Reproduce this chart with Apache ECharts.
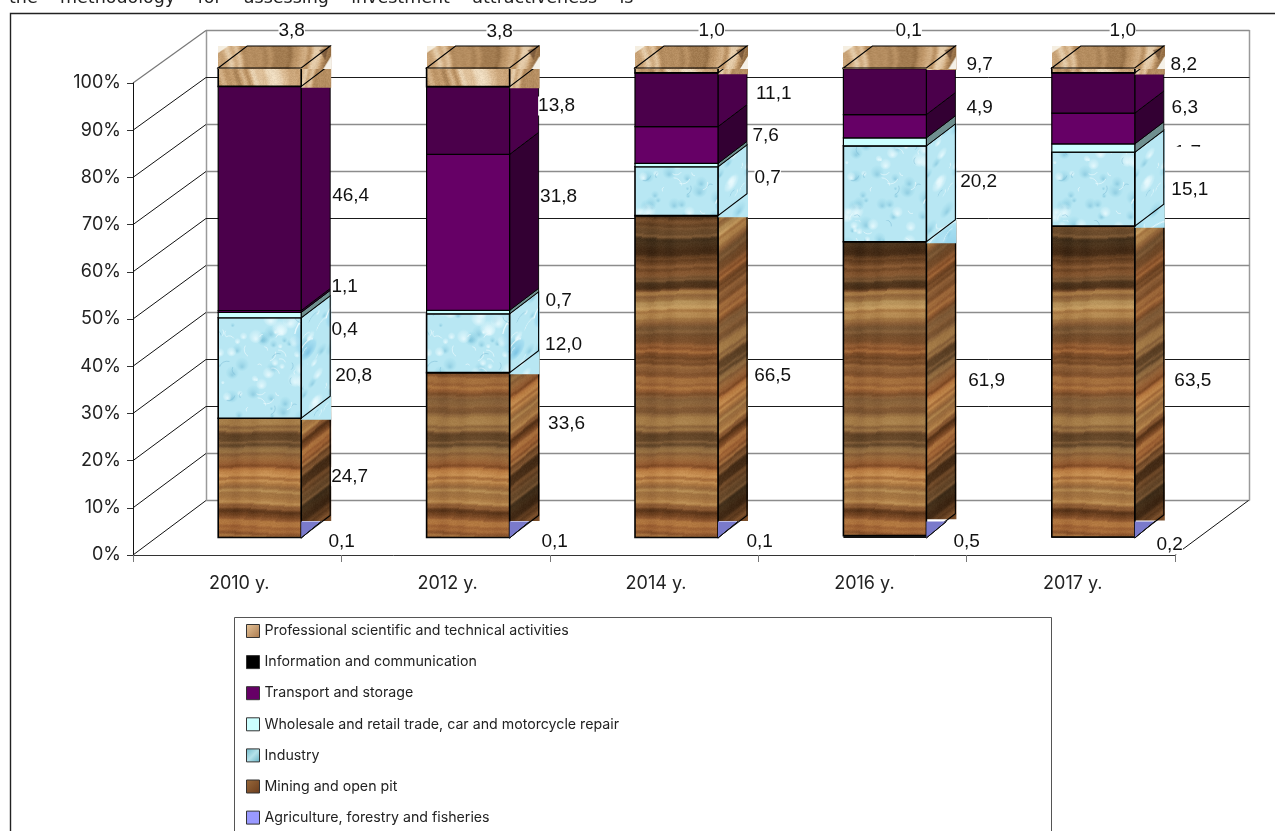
<!DOCTYPE html>
<html>
<head>
<meta charset="utf-8">
<title>Investment structure by activity</title>
<style>html,body{margin:0;padding:0;background:#fff;overflow:hidden}#chart{width:1275px;height:831px}</style>
<script src="https://cdn.jsdelivr.net/npm/echarts@6/dist/echarts.min.js"></script>
</head>
<body>
<div id="chart"></div>
<script>
const categories = ['2010 y.', '2012 y.', '2014 y.', '2016 y.', '2017 y.'];
const yTicks = [0, 10, 20, 30, 40, 50, 60, 70, 80, 90, 100];

const agriculture = [0.1, 0.1, 0.1, 0.5, 0.2];
const mining = [24.7, 33.6, 66.5, 61.9, 63.5];
const industry = [20.8, 12.0, 10.1, 20.2, 15.1];
const wholesale = [1.1, 0.7, 0.7, 1.7, 1.7];
const transport = [0.4, 31.8, 7.6, 4.9, 6.3];
const information = [46.4, 13.8, 11.1, 9.7, 8.2];
const professional = [3.8, 3.8, 1.0, 0.1, 1.0];

const layerNames = [
  'Agriculture, forestry and fisheries',
  'Mining and open pit',
  'Industry',
  'Wholesale and retail trade, car and motorcycle repair',
  'Transport and storage',
  'Information and communication',
  'Professional scientific and technical activities'
];
const layerValues = [agriculture, mining, industry, wholesale, transport, information, professional];

// Hand-placed label nudges [dx, dy] from the right edge / middle of each segment; null = label not shown.
const labelNudges = [
  [[11.5, 3], [16, 3], [12.7, 3], [11.3, 4], [5.9, 6.5]],
  [[19.5, -2], [28, -32], [25.7, -1.8], [31.3, -9], [29, -1.7]],
  [[23.5, 7], [25, 1], null, [23.3, -13], [26, -0.5]],
  [[14.5, -29], [20, -12], [20.7, 11.5], null, [24, 3.6]],
  [[14.5, 17.5], [20, -37], [18.7, -10.5], [24.3, -19.5], [21, -21.8]],
  [[20.5, -3.5], [18, -15.5], [26.7, -7], [24.3, -28], [20, -29.4]],
  [[-38.5, -47], [-39, -47], [-35.3, -41], [-46.7, -38.6], [-41, -41]]
];

// Wall line look per tick: true = crisp dark, false = soft grey.
const darkGridLine = [false, false, true, true, false, false, true, false, false, true, false];

// ---- 3D layout constants (pixels) ----
const BAR_W = 83, BAR_DX = 29, BAR_DY = 22, FLOOR_DX = 22.5, FLOOR_DY = 17;
const WALL_DX = 73, WALL_DY = 55, TAPER = 0.02;

// ---- Seeded generator so the surface textures are the same on every load ----
function makeRng(seed) {
  let s = seed >>> 0;
  return () => { s = (Math.imul(s, 1664525) + 1013904223) >>> 0; return s / 4294967296; };
}
function canvasOf(w, h) { const c = document.createElement('canvas'); c.width = w; c.height = h; return c; }
function periodicNoise(n, rng, steps) {
  const out = new Float32Array(n);
  steps.forEach(([step, amp]) => {
    const count = Math.max(2, Math.round(n / step));
    const knots = Array.from({ length: count }, () => rng());
    for (let i = 0; i < n; i++) {
      const t = i / n * count, a = Math.floor(t), f = t - a, u = f * f * (3 - 2 * f);
      out[i] += amp * (knots[a % count] * (1 - u) + knots[(a + 1) % count] * u);
    }
  });
  let lo = Infinity, hi = -Infinity;
  out.forEach(v => { lo = Math.min(lo, v); hi = Math.max(hi, v); });
  return out.map(v => (v - lo) / (hi - lo));
}
function ramp(stops, t) {
  for (let i = 1; i < stops.length; i++) {
    if (t <= stops[i][0]) {
      const a = stops[i - 1], b = stops[i], f = (t - a[0]) / (b[0] - a[0]);
      return [0, 1, 2].map(k => a[1][k] + (b[1][k] - a[1][k]) * f);
    }
  }
  return stops[stops.length - 1][1];
}
function woodTile() {
  const w = 208, h = 340, c = canvasOf(w, h), g = c.getContext('2d'), img = g.createImageData(w, h);
  const rng = makeRng(77);
  const coarse = periodicNoise(h, rng, [[38, 1], [16, 0.6]]);
  const fine = periodicNoise(h, rng, [[7, 1], [3, 0.9]]);
  const lines = periodicNoise(h, rng, [[11, 1], [5, 0.5]]);
  const tint = periodicNoise(h, rng, [[26, 1], [10, 0.6]]);
  const stops = [[0, [62, 35, 15]], [0.3, [106, 66, 34]], [0.55, [140, 92, 52]], [0.8, [170, 122, 68]], [1, [198, 156, 96]]];
  // Slow sideways streak field so the bands are not perfectly uniform along a row
  const streakX = periodicNoise(w, rng, [[30, 1], [9, 0.7]]);
  for (let y = 0; y < h; y++) for (let x = 0; x < w; x++) {
    const off = 1.2 * Math.sin(x / 45 + y / 70) + 0.8 * Math.sin(x / 17 + y / 29);
    const idx = ((Math.round(y + off) % h) + h) % h;
    const d = Math.max(0, (lines[idx] - 0.62) / 0.38);
    let t = 0.05 + 0.5 * coarse[idx] + 0.5 * fine[idx];
    t = Math.min(1, t) * (1 - 0.8 * Math.min(1, d * 1.5));
    t = Math.max(0, Math.min(1, t + (streakX[x] - 0.5) * 0.12));
    const col = ramp(stops, t);
    const grain = (rng() - 0.5) * 8, red = (tint[idx] - 0.5) * 26;
    const o = (y * w + x) * 4;
    img.data[o] = col[0] + grain + red; img.data[o + 1] = col[1] + grain; img.data[o + 2] = col[2] + grain - red * 0.3; img.data[o + 3] = 255;
  }
  g.putImageData(img, 0, 0);
  return c;
}
function iceTile() {
  const w = 208, h = 220, c = canvasOf(w, h), g = c.getContext('2d'), rng = makeRng(31);
  g.fillStyle = '#b8e7f3'; g.fillRect(0, 0, w, h);
  const blob = (x, y, r, inner, outer) => {
    for (const oy of [-h, 0, h]) {
      const gr = g.createRadialGradient(x, y + oy + r * 0.35, r * 0.1, x, y + oy, r);
      gr.addColorStop(0, inner); gr.addColorStop(0.75, outer); gr.addColorStop(1, 'rgba(190,235,245,0)');
      g.fillStyle = gr; g.beginPath(); g.arc(x, y + oy, r, 0, Math.PI * 2); g.fill();
    }
  };
  for (let i = 0; i < 130; i++) blob(rng() * w, rng() * h, 2 + rng() * 7, 'rgba(120,190,215,.55)', 'rgba(160,220,236,.25)');
  for (let i = 0; i < 110; i++) blob(rng() * w, rng() * h, 2 + rng() * 7, 'rgba(238,252,255,.75)', 'rgba(228,248,252,.25)');
  // Larger drops spread over each bar's width
  [[112, 118, 30], [158, 60, 15], [84, 40, 12], [130, 190, 14], [168, 165, 16], [100, 205, 10], [175, 110, 11]].forEach(([x, y, r]) => {
    blob(x, y, r, 'rgba(115,190,225,.8)', 'rgba(150,214,238,.5)');
    g.strokeStyle = 'rgba(240,253,255,.8)'; g.lineWidth = 1.3;
    g.beginPath(); g.arc(x, y, r * 0.85, Math.PI * 1.05, Math.PI * 1.7); g.stroke();
  });
  // Fine lace of pale arcs and flecks
  for (let i = 0; i < 120; i++) {
    const x = rng() * w, y = rng() * h, r = 2 + rng() * 6, a = rng() * 6.28;
    g.strokeStyle = rng() < 0.6 ? 'rgba(245,254,255,.7)' : 'rgba(105,175,205,.5)';
    g.lineWidth = 0.8; g.beginPath(); g.arc(x, y, r, a, a + 1.6); g.stroke();
  }
  return c;
}
function tanTile() {
  const w = 208, h = 120, c = canvasOf(w, h), g = c.getContext('2d'), img = g.createImageData(w, h);
  const rng = makeRng(13);
  const p = periodicNoise(w, rng, [[34, 1], [12, 1], [5, 0.5]]);
  const stops = [[0, [150, 112, 70]], [0.4, [194, 154, 108]], [0.7, [218, 186, 146]], [1, [238, 220, 192]]];
  for (let y = 0; y < h; y++) for (let x = 0; x < w; x++) {
    const off = Math.round(3 * Math.sin(y / 9 + x / 40));
    const col = ramp(stops, p[((x + off) % w + w) % w]);
    const fine = (rng() - 0.5) * 14, o = (y * w + x) * 4;
    img.data[o] = col[0] + fine; img.data[o + 1] = col[1] + fine; img.data[o + 2] = col[2] + fine; img.data[o + 3] = 255;
  }
  g.putImageData(img, 0, 0);
  return c;
}
function shearTile(src) {
  const c = canvasOf(src.width, src.height), g = c.getContext('2d');
  g.setTransform(1, -BAR_DY / BAR_DX, 0, 1, 0, 0);
  g.fillStyle = g.createPattern(src, 'repeat');
  g.fillRect(-10, -1000, src.width + 20, src.height + 3000);
  return c;
}
function capImage(src) {
  const w = BAR_W + BAR_DX + 1, h = BAR_DY + 1, c = canvasOf(w, h), g = c.getContext('2d');
  g.drawImage(src, 85, 0, w, h, 0, 0, w, h);
  // Dark bark and pale corners at the edges of the lid picture
  g.fillStyle = 'rgba(250,246,236,.9)';
  g.beginPath(); g.moveTo(0, 0); g.lineTo(10, 0); g.lineTo(0, 7); g.fill();
  g.fillStyle = 'rgba(90,60,36,.6)';
  g.beginPath(); g.moveTo(w - 12, 4); g.lineTo(w - 3, 2); g.lineTo(w - 6, 14); g.fill();
  g.fillStyle = 'rgba(250,248,240,.95)';
  g.beginPath(); g.moveTo(w, 10); g.lineTo(w, h); g.lineTo(w - 8, h); g.fill();
  return c;
}
const pat = img => ({ image: img, repeat: 'repeat' });
const woodImg = woodTile(), iceImg = iceTile(), tanImg = tanTile();
const wood = pat(woodImg), woodSide = pat(shearTile(woodImg));
const ice = pat(iceImg), iceSide = pat(shearTile(iceImg));
const tan = pat(tanImg), tanSide = pat(shearTile(tanImg));
const capImg = capImage(tanImg);

const layerLooks = [
  { front: '#9999ff', side: '#7a7acb' },
  { front: wood, side: woodSide, textured: true },
  { front: ice, side: iceSide, textured: true },
  { front: '#ccffff', side: '#6f8f8f' },
  { front: '#660066', side: '#330033' },
  { front: '#4b004b', side: '#4b004b' },
  { front: tan, side: tanSide, textured: true, cap: true }
];

// Every column is stretched to 100%; these are the stacked shares per column.
const columnTotals = categories.map((_, i) => layerValues.reduce((s, v) => s + v[i], 0));
function layerRows(k) {
  return categories.map((_, i) => {
    let below = 0;
    for (let j = 0; j < k; j++) below += layerValues[j][i];
    const f = 100 / columnTotals[i];
    return [i, below * f, (below + layerValues[k][i]) * f, layerValues[k][i]];
  });
}

// Front-face geometry of one stacked segment
function segment(api) {
  const i = api.value(0), v0 = api.value(1), v1 = api.value(2);
  const p0 = api.coord([i, v0]), p1 = api.coord([i, v1]);
  const x0 = p0[0] - BAR_W / 2 + FLOOR_DX;
  return {
    x0, x1: x0 + BAR_W, x2: x0 + BAR_W + BAR_DX,
    yb: p0[1] - FLOOR_DY + TAPER * v0,
    yt: p1[1] - FLOOR_DY + TAPER * v1
  };
}
const poly = (points, style, z2) => ({ type: 'polygon', shape: { points }, style, z2: z2 || 0, silent: true });

function renderLayer(k) {
  const look = layerLooks[k];
  return function (params, api) {
    const s = segment(api), c = [];
    const h = Math.max(s.yb - s.yt, 0.5);
    const outline = { fill: 'none', stroke: '#000', lineWidth: 1.1 };
    if (k === 0) {
      // The tiny floor-level layer only shows as a wedge on the side
      c.push(poly([[s.x1, s.yb], [s.x1, s.yb - 16.5], [s.x1 + 20, s.yb - 16.5]], { fill: look.side }));
      c.push(poly([[s.x1, s.yb], [s.x1 + 20, s.yb - 16.5]], { fill: 'none', stroke: '#111', lineWidth: 1 }));
      c.push({ type: 'rect', shape: { x: s.x0, y: s.yt, width: BAR_W, height: h }, style: { fill: '#111' } });
      return { type: 'group', children: c };
    }
    if (look.textured) {
      const bottom = k === 1 ? s.yb - 16.5 : s.yb + 1.5;
      c.push(poly([[s.x1, s.yt], [s.x2 + 1, s.yt - BAR_DY], [s.x2 + 1, bottom], [s.x1, bottom]], { fill: look.side }));
      c.push(poly([[s.x1, s.yb], [s.x1, s.yt], [s.x2, s.yt - BAR_DY], [s.x2, s.yb - BAR_DY]], outline));
    } else {
      c.push(poly([[s.x1, s.yb], [s.x1, s.yt], [s.x2, s.yt - BAR_DY], [s.x2, s.yb - BAR_DY]],
        { fill: look.side, stroke: '#000', lineWidth: 0.9 }));
    }
    c.push({
      type: 'rect', shape: { x: s.x0, y: s.yt, width: BAR_W, height: h },
      style: { fill: look.front, stroke: '#000', lineWidth: look.textured ? 1.6 : 1.2 }
    });
    if (look.cap) {
      c.push({ type: 'image', style: { image: capImg, x: s.x0, y: s.yt - BAR_DY, width: BAR_W + BAR_DX + 1, height: BAR_DY + 1 } });
      c.push(poly([[s.x0, s.yt], [s.x0 + BAR_DX, s.yt - BAR_DY], [s.x2, s.yt - BAR_DY], [s.x1, s.yt]], outline));
    }
    return { type: 'group', children: c };
  };
}

const layerSeries = layerNames.map((name, k) => ({
  type: 'custom', name, coordinateSystem: 'cartesian2d', clip: false, silent: true,
  z: k === 0 ? 4 : 3,
  encode: { x: 0, y: [1, 2] },
  data: layerRows(k),
  renderItem: renderLayer(k)
}));

// Back wall, side wall and floor, drawn on the chart's own value scale
const wallSeries = {
  type: 'custom', name: 'walls', coordinateSystem: 'cartesian2d', clip: false, silent: true, z: 1,
  encode: { y: 0 },
  data: yTicks.map(t => [t]),
  renderItem(params, api) {
    const v = api.value(0), idx = params.dataIndex, area = params.coordSys;
    const y = api.coord([0, v])[1], x0 = area.x, x1 = area.x + area.width;
    const by = y - WALL_DY + TAPER * v, snap = Math.round(by) + 0.5, right = x1 + WALL_DX + 1.5;
    const dark = darkGridLine[idx];
    const back = dark ? { stroke: '#1a1a1a', lineWidth: 1 } : { stroke: '#8c8c8c', lineWidth: 1.6 };
    const top = v === 100;
    const line = (a, b, style) => ({ type: 'line', shape: { x1: a[0], y1: a[1], x2: b[0], y2: b[1] }, style, silent: true });
    const c = [
      line([x0 + WALL_DX, snap], [right, snap], back),
      line([x0, y], [x0 + WALL_DX, snap], top ? { stroke: '#777', lineWidth: 1.2 } : { stroke: '#111', lineWidth: 1 })
    ];
    if (v === 0) {
      const topBack = api.coord([0, 100])[1] - WALL_DY + TAPER * 100;
      c.push(line([x0 + WALL_DX + 0.5, snap], [x0 + WALL_DX + 0.5, topBack], { stroke: '#9a9a9a', lineWidth: 1.5 }));
      c.push(line([right, snap], [right, topBack], { stroke: '#9a9a9a', lineWidth: 1.5 }));
      c.push(line([x1, y], [right - 1, snap], { stroke: '#111', lineWidth: 1 }));
    }
    return { type: 'group', children: c };
  }
};

// Value labels, sitting over everything with a white plate behind the digits
const labelRows = [];
layerNames.forEach((_, k) => layerRows(k).forEach((r, i) => {
  if (labelNudges[k][i]) labelRows.push([i, r[1], r[2], r[3], k]);
}));
const labelSeries = {
  type: 'custom', name: 'values', coordinateSystem: 'cartesian2d', clip: false, silent: true, z: 6,
  encode: { x: 0, y: [1, 2] },
  data: labelRows,
  renderItem(params, api) {
    const s = segment(api), i = api.value(0), value = api.value(3), k = api.value(4);
    const n = labelNudges[k][i];
    const x = s.x2 + n[0], y = (s.yt + s.yb) / 2 + n[1] + 1;
    const c = [{
      type: 'text', silent: true,
      style: {
        text: value.toFixed(1).replace('.', ','), x, y, align: 'center', verticalAlign: 'middle',
        font: '19px "Liberation Sans", Arial, sans-serif', fill: '#111',
        backgroundColor: '#fff', padding: 0
      }
    }];
    // The 2017 trade label is cut by the plate of the label beneath it
    if (k === 3 && i === 4) {
      c.push({ type: 'rect', silent: true, shape: { x: x - 19, y: y - 6, width: 38, height: 18 }, style: { fill: '#fff' } });
    }
    return { type: 'group', children: c };
  }
};

const legendLooks = [
  { color: '#9999ff' },
  { color: { type: 'linear', x: 0, y: 0, x2: 1, y2: 1, colorStops: [{ offset: 0, color: '#9a6a3c' }, { offset: 1, color: '#6a3c1c' }] } },
  { color: { type: 'linear', x: 0, y: 0, x2: 1, y2: 1, colorStops: [{ offset: 0, color: '#6fb9c9' }, { offset: 0.5, color: '#b5e2ea' }, { offset: 1, color: '#62afc2' }] } },
  { color: '#ccffff' },
  { color: '#660066' },
  { color: '#000000' },
  { color: { type: 'linear', x: 0, y: 0, x2: 1, y2: 1, colorStops: [{ offset: 0, color: '#e8c79c' }, { offset: 1, color: '#a9784c' }] } }
];
const legendData = layerNames.map((name, k) => ({
  name, icon: 'rect',
  itemStyle: { color: legendLooks[k].color, borderColor: '#333', borderWidth: 1 }
})).reverse();

const labelFont = 'Inter, "Noto Sans", sans-serif';
const chart = echarts.init(document.getElementById('chart'), null, { renderer: 'canvas' });
chart.setOption({
  animation: false,
  backgroundColor: '#fff',
  grid: { left: 133, top: 83, width: 1042, height: 472, containLabel: false },
  xAxis: {
    type: 'category', data: categories, boundaryGap: true,
    axisLine: { lineStyle: { color: '#333', width: 1 } },
    axisTick: { show: true, alignWithLabel: false, length: 7, lineStyle: { color: '#777' } },
    axisLabel: { margin: 20, color: '#222', fontFamily: labelFont, fontSize: 18, padding: [0, 0, 0, 4] },
    z: 2
  },
  yAxis: {
    type: 'value', min: 0, max: 100, interval: 10, splitLine: { show: false },
    axisLine: { show: true, lineStyle: { color: '#111', width: 1 } },
    axisTick: { show: true, length: 6, lineStyle: { color: '#333' } },
    axisLabel: { margin: 12, color: '#222', fontFamily: labelFont, fontSize: 18, formatter: '{value}%', lineHeight: 18, padding: [10, 0, 0, 0] },
    z: 2
  },
  legend: {
    orient: 'vertical', left: 241, top: 619, itemWidth: 13, itemHeight: 13, itemGap: 17.1,
    selectedMode: false, data: legendData,
    textStyle: { color: '#222', fontFamily: labelFont, fontSize: 14.2 }
  },
  graphic: [
    { type: 'polyline', shape: { points: [[1275, 13.5], [10.5, 13.5], [10.5, 831]] }, style: { fill: 'none', stroke: '#222', lineWidth: 1.4 }, silent: true, z: 0 },
    { type: 'rect', shape: { x: 234.5, y: 617.5, width: 817, height: 260 }, style: { fill: '#fff', stroke: '#555', lineWidth: 1 }, silent: true, z: 0 },
    { type: 'text', style: { text: 'the\u00a0\u00a0\u00a0\u00a0methodology\u00a0\u00a0\u00a0\u00a0for\u00a0\u00a0\u00a0\u00a0assessing\u00a0\u00a0\u00a0\u00a0investment\u00a0\u00a0\u00a0\u00a0attractiveness\u00a0\u00a0\u00a0\u00a0is', x: 9, y: 7, verticalAlign: 'bottom', font: '17.5px "DejaVu Sans", sans-serif', fill: '#222' }, silent: true, z: 0 }
  ],
  series: [wallSeries].concat(layerSeries, [labelSeries])
});
</script>
</body>
</html>
